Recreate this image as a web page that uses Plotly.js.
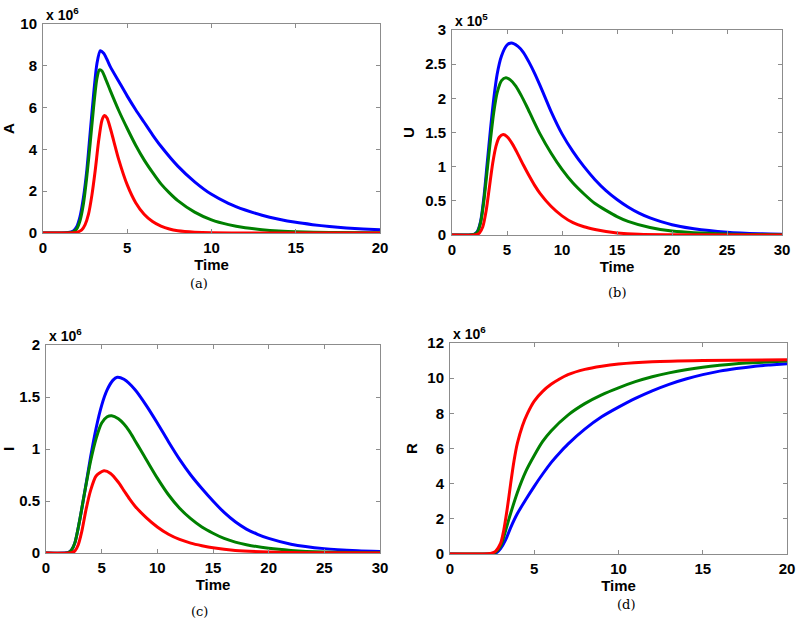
<!DOCTYPE html>
<html>
<head>
<meta charset="utf-8">
<script src="https://cdn.plot.ly/plotly-3.0.1.min.js"></script>
<style>html,body{margin:0;padding:0;background:#fff;}#chart{width:797px;height:619px;}</style>
</head>
<body>
<div id="chart"></div>
<script>
// ---------- Data (values in units of the axis multiplier) ----------
// Panel (a): A, x 10^6
const a_blue_t  = [0,1,1.5,1.8,2.0,2.2,2.4,2.6,2.8,3.0,3.2,3.4,3.6,3.8,4.0,4.5,5.0,5.5,6.0,6.5,7.0,8.0,9.0,10,11,12,13,14,15,16,17,18,19,20];
const a_blue_v  = [0,0,0.02,0.1,0.3,0.8,1.7,3.0,4.8,6.6,8.1,8.72,8.6,8.3,7.95,7.25,6.55,5.9,5.3,4.7,4.15,3.2,2.45,1.85,1.42,1.1,0.85,0.66,0.51,0.4,0.31,0.24,0.19,0.15];
const a_green_t = [0,1,1.5,1.8,2.0,2.2,2.4,2.6,2.8,3.0,3.2,3.35,3.5,3.7,4.0,4.5,5.0,5.5,6.0,6.5,7.0,7.5,8.0,9.0,10,11,12,13,14,15,17,20];
const a_green_v = [0,0,0.01,0.06,0.2,0.6,1.4,2.7,4.3,6.0,7.4,7.8,7.75,7.4,6.8,5.85,5.0,4.2,3.5,2.9,2.35,1.92,1.55,1.0,0.63,0.4,0.25,0.16,0.1,0.06,0.025,0.008];
const a_red_t   = [0,1.8,2.0,2.3,2.5,2.7,2.9,3.1,3.3,3.5,3.65,3.8,4.0,4.2,4.5,5.0,5.5,6.0,6.5,7.0,7.5,8.0,9,10,12,20];
const a_red_v   = [0,0.01,0.03,0.15,0.4,0.9,1.8,3.0,4.4,5.4,5.62,5.5,5.0,4.4,3.5,2.3,1.45,0.9,0.55,0.33,0.19,0.11,0.04,0.01,0,0];

// Panel (b): U, x 10^5
const b_blue_t  = [0,1.5,2.0,2.3,2.6,2.9,3.2,3.5,3.8,4.1,4.5,5.0,5.4,6.0,6.5,7.0,7.5,8.0,8.5,9.0,10,11,12,13,14,15,16,17,18,19,20,22,25,28,30];
const b_blue_v  = [0,0,0.01,0.05,0.2,0.55,1.05,1.55,2.0,2.35,2.62,2.78,2.81,2.76,2.67,2.53,2.37,2.19,2.0,1.81,1.48,1.22,1.0,0.81,0.65,0.52,0.41,0.32,0.25,0.195,0.15,0.09,0.04,0.018,0.012];
const b_green_t = [0,2.0,2.3,2.6,2.9,3.2,3.5,3.8,4.1,4.5,4.9,5.3,5.8,6.3,6.8,7.3,8.0,9.0,10,11,12,13,14,15,16,18,20,25,30];
const b_green_v = [0,0.01,0.04,0.18,0.5,0.95,1.4,1.8,2.08,2.26,2.3,2.27,2.18,2.04,1.88,1.71,1.48,1.2,0.96,0.76,0.6,0.46,0.36,0.27,0.2,0.11,0.06,0.015,0.004];
const b_red_t   = [0,2.2,2.5,2.8,3.1,3.4,3.7,4.0,4.3,4.65,5.0,5.5,6.0,6.5,7.0,7.5,8.0,9.0,10,11,12,13,14,15,17,20,30];
const b_red_v   = [0,0.005,0.03,0.12,0.35,0.7,1.05,1.3,1.43,1.47,1.44,1.33,1.18,1.02,0.87,0.73,0.61,0.42,0.28,0.18,0.12,0.08,0.05,0.03,0.01,0.003,0];

// Panel (c): I, x 10^6
const c_blue_t  = [0,2.0,2.3,2.6,3.0,3.5,4.0,4.5,5.0,5.5,6.0,6.4,7.0,8.0,9.0,10,11,12,13,14,15,16,17,18,19,20,22,25,28,30];
const c_blue_v  = [0,0.005,0.03,0.1,0.3,0.6,0.92,1.2,1.42,1.57,1.66,1.69,1.67,1.57,1.42,1.25,1.07,0.9,0.75,0.62,0.5,0.39,0.3,0.23,0.18,0.14,0.085,0.042,0.022,0.015];
const c_green_t = [0,2.0,2.3,2.6,3.0,3.5,4.0,4.5,5.0,5.5,5.9,6.5,7.0,7.5,8.0,8.5,9.0,10,11,12,13,14,15,16,17,18,20,22,25,30];
const c_green_v = [0,0.004,0.03,0.1,0.3,0.6,0.88,1.1,1.25,1.31,1.32,1.29,1.24,1.17,1.08,0.99,0.9,0.72,0.56,0.43,0.33,0.25,0.19,0.14,0.105,0.08,0.045,0.025,0.01,0.003];
const c_red_t   = [0,2.3,2.6,2.9,3.2,3.6,4.0,4.5,5.2,5.8,6.5,7.0,7.5,8.0,9.0,10,11,12,13,14,15,17,20,25,30];
const c_red_v   = [0,0.003,0.02,0.08,0.2,0.42,0.6,0.74,0.79,0.765,0.68,0.6,0.52,0.45,0.34,0.25,0.18,0.13,0.095,0.07,0.05,0.025,0.01,0.002,0];

// Panel (d): R, x 10^6
const d_blue_t  = [0,2.5,2.8,3.0,3.3,3.6,4.0,4.5,5.0,5.5,6.0,6.5,7.0,8.0,9.0,10,11,12,13,14,15,16,17,18,19,20];
const d_blue_v  = [0,0.01,0.1,0.3,0.8,1.5,2.3,3.1,3.85,4.55,5.2,5.75,6.25,7.1,7.8,8.35,8.85,9.28,9.65,9.95,10.2,10.4,10.55,10.67,10.75,10.82];
const d_green_t = [0,2.4,2.7,3.0,3.2,3.5,4.0,4.5,5.0,5.5,6.0,7.0,8.0,9.0,10,11,12,13,14,15,16,17,18,20];
const d_green_v = [0,0.02,0.1,0.45,1.0,2.0,3.5,4.7,5.6,6.4,7.0,7.9,8.55,9.05,9.45,9.8,10.08,10.3,10.48,10.62,10.73,10.82,10.88,10.98];
const d_red_t   = [0,2.0,2.4,2.7,3.0,3.2,3.4,3.6,3.8,4.0,4.3,4.6,5.0,5.5,6.0,6.5,7.0,8.0,9.0,10,12,15,20];
const d_red_v   = [0,0,0.03,0.15,0.6,1.4,2.6,4.0,5.3,6.3,7.3,8.0,8.7,9.25,9.65,9.95,10.2,10.5,10.68,10.8,10.93,11.0,11.05];

const yLabels    = ['A','U','I','R'];
const multLabels = ['x 10<sup>6</sup>','x 10<sup>5</sup>','x 10<sup>6</sup>','x 10<sup>6</sup>'];
const captions   = ['(a)','(b)','(c)','(d)'];

// ---------- Styling ----------
const W = 797, H = 619;
const BLUE = '#0000ff', GREEN = '#008000', RED = '#ff0000';
const FONT = 'Liberation Sans, Arial, Helvetica, sans-serif';
const AXCOL = '#8c8c8c';

function line(t, v, color, xa, ya) {
  return {x: t, y: v, type: 'scatter', mode: 'lines', xaxis: xa, yaxis: ya,
          line: {color: color, width: 3, shape: 'spline', smoothing: 0.7},
          hoverinfo: 'skip', showlegend: false};
}

const data = [
  line(a_blue_t, a_blue_v, BLUE, 'x', 'y'),
  line(a_green_t, a_green_v, GREEN, 'x', 'y'),
  line(a_red_t, a_red_v, RED, 'x', 'y'),
  line(b_blue_t, b_blue_v, BLUE, 'x2', 'y2'),
  line(b_green_t, b_green_v, GREEN, 'x2', 'y2'),
  line(b_red_t, b_red_v, RED, 'x2', 'y2'),
  line(c_blue_t, c_blue_v, BLUE, 'x3', 'y3'),
  line(c_green_t, c_green_v, GREEN, 'x3', 'y3'),
  line(c_red_t, c_red_v, RED, 'x3', 'y3'),
  line(d_blue_t, d_blue_v, BLUE, 'x4', 'y4'),
  line(d_green_t, d_green_v, GREEN, 'x4', 'y4'),
  line(d_red_t, d_red_v, RED, 'x4', 'y4')
];

// plot boxes in pixels: [left, right, top, bottom]
const boxes = [[43,380,24,233],[452,782,30,235],[46,380,345,553],[450,787,343,554]];
const xRanges = [[0,20],[0,30],[0,30],[0,20]];
const yRanges = [[0,10],[0,3],[0,2],[0,12]];
const yDtick  = [2,0.5,0.5,2];

const boldFont = (s) => ({family: FONT, size: s, color: '#000', weight: 'bold'});
const layout = {
  width: W, height: H,
  margin: {l: 0, r: 0, t: 0, b: 0},
  paper_bgcolor: '#fff', plot_bgcolor: '#fff',
  showlegend: false,
  annotations: []
};

boxes.forEach((b, i) => {
  const sx = i === 0 ? '' : String(i + 1);
  layout['xaxis' + sx] = {
    domain: [b[0] / W, b[1] / W], anchor: 'y' + sx,
    range: xRanges[i], dtick: 5, tick0: 0,
    showgrid: false, zeroline: false, showline: true, mirror: 'ticks',
    linecolor: AXCOL, linewidth: 1, ticks: 'inside', ticklen: 4, tickcolor: AXCOL,
    tickfont: boldFont(15), ticklabelstandoff: 1,
    title: {text: 'Time', font: boldFont(15), standoff: 1}
  };
  layout['yaxis' + sx] = {
    domain: [1 - b[3] / H, 1 - b[2] / H], anchor: 'x' + sx,
    range: yRanges[i], dtick: yDtick[i], tick0: 0,
    showgrid: false, zeroline: false, showline: true, mirror: 'ticks',
    linecolor: AXCOL, linewidth: 1, ticks: 'inside', ticklen: 4, tickcolor: AXCOL,
    tickfont: boldFont(15), ticklabelstandoff: 2,
    title: {text: yLabels[i], font: boldFont(15), standoff: 6}
  };
  layout.annotations.push({
    xref: 'paper', yref: 'paper', x: (b[0] + 1) / W, y: 1 - (b[2] - 10) / H,
    xanchor: 'left', yanchor: 'middle', showarrow: false,
    text: multLabels[i], font: boldFont(14)
  });
});

const capPos = [[199,283],[617,292],[199,611],[626,604]];
capPos.forEach((p, i) => {
  layout.annotations.push({
    xref: 'paper', yref: 'paper', x: p[0] / W, y: 1 - p[1] / H,
    xanchor: 'center', yanchor: 'middle', showarrow: false,
    text: captions[i], font: {family: 'DejaVu Serif, Liberation Serif, serif', size: 13, color: '#000'}
  });
});

Plotly.newPlot('chart', data, layout, {staticPlot: true, displayModeBar: false});
</script>
</body>
</html>
